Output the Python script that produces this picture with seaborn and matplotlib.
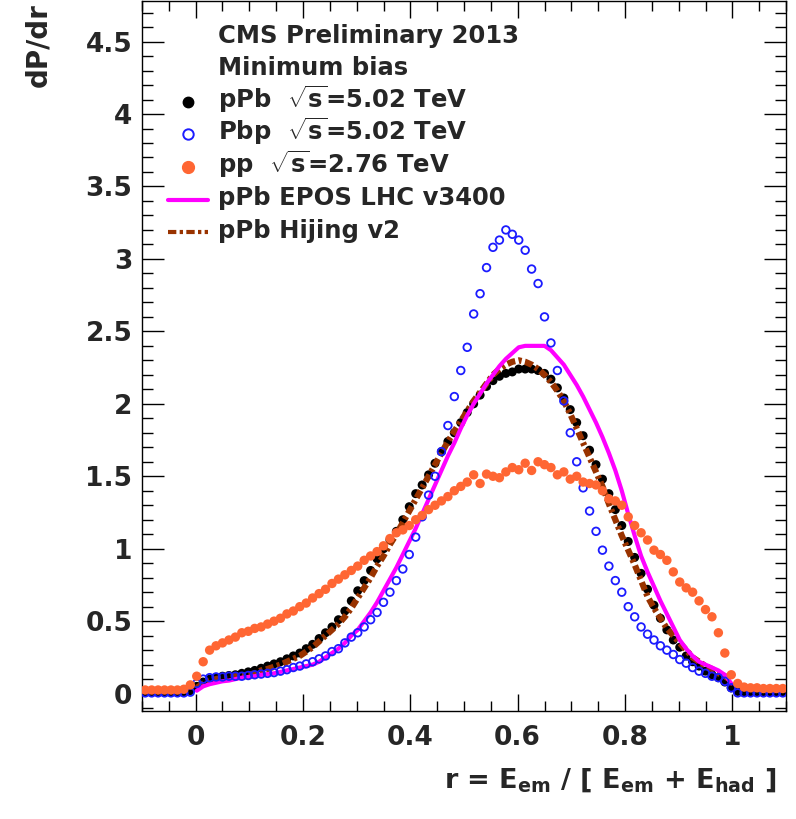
import numpy as np
import pandas as pd
import matplotlib
matplotlib.use('Agg')
import matplotlib.pyplot as plt
from matplotlib.lines import Line2D
from matplotlib.ticker import MultipleLocator, FuncFormatter
import seaborn as sns

# %% data: dP/dr histograms, 100 bins over r in [-0.1, 1.1]
r_lo, r_hi, n_bins = -0.1, 1.1, 100
bin_w = (r_hi - r_lo) / n_bins
r_bins = np.round(r_lo + bin_w * (np.arange(n_bins) + 0.5), 4)
r_model = r_bins[8:92]  # model curves only drawn for 0 < r < 1

ppb_data = [0.01, 0.01, 0.01, 0.01, 0.01, 0.01, 0.01, 0.02,
            0.05, 0.08, 0.10, 0.11, 0.12, 0.125, 0.13, 0.14, 0.15, 0.16,
            0.175, 0.19, 0.205, 0.22, 0.24, 0.26, 0.28, 0.31, 0.34, 0.38,
            0.42, 0.46, 0.51, 0.57, 0.64, 0.71, 0.78, 0.85, 0.93, 1.00,
            1.06, 1.12, 1.20, 1.29, 1.38, 1.44, 1.51, 1.59, 1.67, 1.74,
            1.80, 1.87, 1.94, 2.00, 2.06, 2.12, 2.16, 2.19, 2.21, 2.22,
            2.24, 2.24, 2.24, 2.23, 2.21, 2.17, 2.11, 2.04, 1.96, 1.87,
            1.78, 1.68, 1.58, 1.48, 1.38, 1.27, 1.16, 1.05, 0.94, 0.83,
            0.72, 0.61, 0.52, 0.44, 0.37, 0.32, 0.26, 0.22, 0.19, 0.155,
            0.13, 0.11, 0.08, 0.04, 0.015, 0.01, 0.01, 0.01, 0.01, 0.01, 0.01, 0.01]

pbp_data = [0.005, 0.005, 0.005, 0.005, 0.005, 0.005, 0.005, 0.01,
            0.07, 0.10, 0.11, 0.115, 0.115, 0.12, 0.12, 0.12, 0.125, 0.13,
            0.135, 0.14, 0.145, 0.155, 0.165, 0.18, 0.19, 0.205, 0.22, 0.24,
            0.26, 0.29, 0.31, 0.35, 0.39, 0.42, 0.46, 0.51, 0.56, 0.63,
            0.70, 0.78, 0.86, 0.96, 1.08, 1.22, 1.37, 1.50, 1.67, 1.85,
            2.05, 2.23, 2.39, 2.62, 2.76, 2.94, 3.08, 3.13, 3.20, 3.17,
            3.13, 3.06, 2.93, 2.83, 2.60, 2.42, 2.23, 2.02, 1.80, 1.60,
            1.42, 1.26, 1.12, 0.99, 0.88, 0.78, 0.70, 0.60, 0.53, 0.46,
            0.41, 0.37, 0.33, 0.30, 0.27, 0.235, 0.21, 0.18, 0.155, 0.14,
            0.12, 0.11, 0.085, 0.04, 0.005, 0.005, 0.005, 0.005, 0.005, 0.005, 0.005, 0.005]

pp_data = [0.025, 0.025, 0.025, 0.025, 0.025, 0.025, 0.03, 0.06,
           0.12, 0.22, 0.30, 0.33, 0.35, 0.37, 0.39, 0.42, 0.43, 0.45,
           0.46, 0.48, 0.50, 0.52, 0.55, 0.57, 0.60, 0.625, 0.66, 0.69,
           0.72, 0.76, 0.79, 0.82, 0.85, 0.88, 0.92, 0.95, 0.98, 1.02,
           1.07, 1.11, 1.13, 1.16, 1.20, 1.23, 1.27, 1.30, 1.33, 1.36,
           1.40, 1.43, 1.46, 1.51, 1.45, 1.515, 1.50, 1.49, 1.53, 1.56,
           1.545, 1.59, 1.54, 1.60, 1.58, 1.56, 1.51, 1.53, 1.48, 1.50,
           1.46, 1.45, 1.44, 1.40, 1.345, 1.33, 1.30, 1.22, 1.16, 1.11,
           1.06, 0.99, 0.96, 0.92, 0.84, 0.77, 0.73, 0.70, 0.64, 0.58,
           0.53, 0.42, 0.28, 0.13, 0.07, 0.045, 0.04, 0.04, 0.035, 0.035, 0.035, 0.035]

epos_mc = [0.02, 0.05, 0.065, 0.075, 0.085, 0.09, 0.10, 0.11, 0.115, 0.12,
           0.13, 0.135, 0.14, 0.15, 0.16, 0.17, 0.18, 0.19, 0.20, 0.22,
           0.25, 0.28, 0.31, 0.35, 0.40, 0.44, 0.50, 0.56, 0.63, 0.71,
           0.79, 0.87, 0.96, 1.05, 1.14, 1.24, 1.34, 1.44, 1.54, 1.64,
           1.73, 1.83, 1.92, 2.00, 2.07, 2.14, 2.20, 2.26, 2.31, 2.35,
           2.39, 2.40, 2.40, 2.40, 2.40, 2.37, 2.32, 2.27, 2.20, 2.13,
           2.05, 1.96, 1.87, 1.77, 1.66, 1.54, 1.40, 1.24, 1.09, 0.95,
           0.84, 0.74, 0.64, 0.55, 0.46, 0.37, 0.31, 0.26, 0.22, 0.20,
           0.18, 0.16, 0.13, 0.07]

hijing_mc = [0.04, 0.07, 0.09, 0.10, 0.11, 0.115, 0.12, 0.125, 0.13, 0.14,
             0.16, 0.17, 0.185, 0.20, 0.22, 0.24, 0.26, 0.29, 0.32, 0.36,
             0.40, 0.44, 0.48, 0.53, 0.59, 0.66, 0.73, 0.80, 0.88, 0.95,
             1.03, 1.10, 1.18, 1.26, 1.34, 1.42, 1.50, 1.58, 1.66, 1.74,
             1.81, 1.88, 1.95, 2.02, 2.08, 2.14, 2.20, 2.24, 2.27, 2.29,
             2.30, 2.29, 2.27, 2.24, 2.20, 2.15, 2.09, 2.02, 1.93, 1.83,
             1.73, 1.63, 1.53, 1.43, 1.31, 1.20, 1.09, 0.99, 0.89, 0.78,
             0.67, 0.59, 0.52, 0.45, 0.40, 0.35, 0.30, 0.25, 0.22, 0.19,
             0.17, 0.14, 0.12, 0.09]

header = ['CMS Preliminary 2013', 'Minimum bias']
labels = ['pPb  $\\sqrt{s}$=5.02 TeV', 'Pbp  $\\sqrt{s}$=5.02 TeV', 'pp  $\\sqrt{s}$=2.76 TeV',
          'pPb EPOS LHC v3400', 'pPb Hijing v2']

c_ppb, c_pbp, c_pp, c_epos, c_hij = '#000000', '#1c1cff', '#ff6633', '#ff00ff', '#993300'
hij_dash = (0, (1.3, 0.55, 0.5, 0.55))

# %% style
sns.set_style('ticks')
plt.rcParams['font.family'] = ['DejaVu Sans']
plt.rcParams['font.weight'] = 'bold'
plt.rcParams['mathtext.fontset'] = 'custom'
plt.rcParams['mathtext.rm'] = 'DejaVu Sans:bold'
plt.rcParams['mathtext.it'] = 'DejaVu Sans:bold'
plt.rcParams['mathtext.bf'] = 'DejaVu Sans:bold'

W, H = 796, 819
fig = plt.figure(figsize=(W / 100, H / 100), dpi=100)
ax = fig.add_axes([142 / W, 108 / H, 644 / W, 710 / H])

# %% curves
sns.scatterplot(x=r_bins, y=ppb_data, ax=ax, color=c_ppb, s=42, edgecolor='none', zorder=3)
sns.lineplot(x=r_model, y=hijing_mc, ax=ax, color=c_hij, linewidth=4.5, sort=False, estimator=None,
             linestyle=hij_dash, zorder=4)
sns.lineplot(x=r_model, y=epos_mc, ax=ax, color=c_epos, linewidth=3, sort=False, estimator=None, zorder=5)
sns.scatterplot(x=r_bins, y=pbp_data, ax=ax, color=c_pbp, facecolor='none', edgecolor=c_pbp,
                linewidth=1.3, s=30, zorder=6)
sns.scatterplot(x=r_bins, y=pp_data, ax=ax, color=c_pp, s=46, edgecolor='none', zorder=7)

# %% axes
ax.set_xlim(-0.1, 1.1)
ax.set_ylim(-0.12, 4.78)
ax.xaxis.set_major_locator(MultipleLocator(0.2))
ax.xaxis.set_minor_locator(MultipleLocator(0.05))
ax.yaxis.set_major_locator(MultipleLocator(0.5))
ax.yaxis.set_minor_locator(MultipleLocator(0.1))
fmt = FuncFormatter(lambda v, p: '%g' % round(v, 3))
ax.xaxis.set_major_formatter(fmt)
ax.yaxis.set_major_formatter(fmt)
ax.tick_params(which='both', direction='in', top=True, right=True, width=1, color='black')
ax.tick_params(axis='x', which='major', length=12, pad=10, labelsize=19)
ax.tick_params(axis='x', which='minor', length=7)
ax.tick_params(axis='y', which='major', length=16, pad=7, labelsize=19)
ax.tick_params(axis='y', which='minor', length=8)
for s in ax.spines.values():
    s.set_linewidth(1)
    s.set_color('black')

fig.text(38 / W, 1 - 3 / H, 'dP/dr', rotation=90, ha='center', va='top', fontsize=20, fontweight='bold')
fig.text(777 / W, 1 - 788 / H, 'r = E$_{\\rm em}$ / [ E$_{\\rm em}$ + E$_{\\rm had}$ ]',
         ha='right', va='baseline', fontsize=19.5, fontweight='bold')

# %% legend (ROOT-style, entries placed row by row)
text_x, hand_x, base0, pitch = 218, 188, 42.5, 32.6
for k, txt in enumerate(header + labels):
    fig.text(text_x / W, 1 - (base0 + pitch * k) / H, txt, ha='left', va='baseline',
             fontsize=17.5, fontweight='bold')

handles = [Line2D([hand_x], [0], marker='o', linestyle='none', color=c_ppb, markersize=7.5),
           Line2D([hand_x], [0], marker='o', linestyle='none', markerfacecolor='none',
                  markeredgecolor=c_pbp, markeredgewidth=1.4, markersize=7.5),
           Line2D([hand_x], [0], marker='o', linestyle='none', color=c_pp, markersize=8.5),
           Line2D([168, 208], [0, 0], color=c_epos, linewidth=3),
           Line2D([168, 208], [0, 0], color=c_hij, linewidth=3, linestyle=(0, (2, 0.8, 0.8, 0.8)))]
for k, h in enumerate(handles):
    yk = base0 + pitch * (k + 2) - 6
    h.set_xdata(np.asarray(h.get_xdata()) / W)
    h.set_ydata(np.full(len(h.get_xdata()), 1 - yk / H))
    h.set_transform(fig.transFigure)
    fig.add_artist(h)

fig.savefig('out.png', dpi=100)
